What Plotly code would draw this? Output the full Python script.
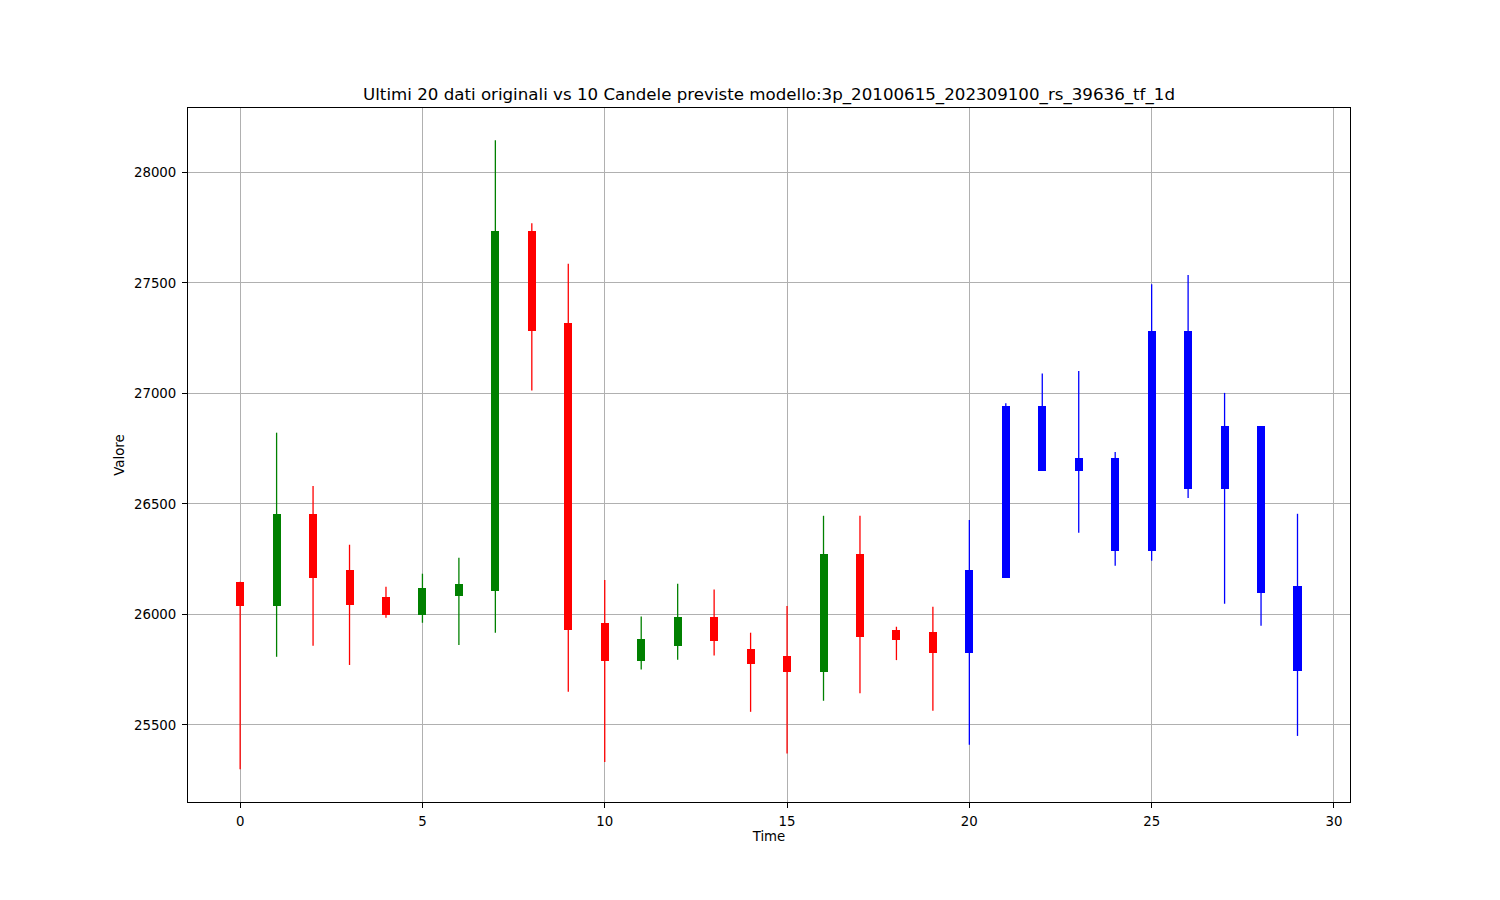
import plotly.graph_objects as go

# Data
times = list(range(30))
opens = [26147, 26038, 26454, 26200, 26078, 25998, 26083, 26104, 27734, 27318,
         25960, 25788, 25855, 25990, 25843, 25811, 25740, 26273, 25929, 25920,
         25826, 26164, 26649, 26649, 26288, 26288, 26568, 26568, 26095, 25745]
closes = [26038, 26454, 26166, 26043, 25998, 26119, 26138, 27734, 27284, 25928,
          25788, 25890, 25990, 25878, 25776, 25740, 26273, 25896, 25885, 25826,
          26200, 26943, 26943, 26706, 26706, 27282, 27282, 26852, 26852, 26130]
highs = [26147, 26822, 26581, 26315, 26125, 26184, 26256, 28145, 27770, 27586,
         26155, 25990, 26138, 26112, 25917, 26038, 26446, 26446, 25944, 26034,
         26427, 26955, 27090, 27101, 26735, 27494, 27535, 27002, 26852, 26455]
lows = [25299, 25808, 25858, 25771, 25985, 25962, 25861, 25917, 27013, 25650,
        25332, 25750, 25795, 25814, 25559, 25371, 25609, 25643, 25793, 25564,
        25410, 26164, 26649, 26369, 26220, 26243, 26526, 26048, 25949, 25450]
n_original = 20

x_ticks = [0, 5, 10, 15, 20, 25, 30]
y_ticks = [25500, 26000, 26500, 27000, 27500, 28000]

title = "Ultimi 20 dati originali vs 10 Candele previste modello:3p_20100615_202309100_rs_39636_tf_1d"


def color_for(i):
    if i >= n_original:
        return "#0000ff"
    return "#008000" if closes[i] >= opens[i] else "#ff0000"


fig = go.Figure()

# wicks
for i in times:
    c = color_for(i)
    fig.add_trace(go.Scatter(
        x=[times[i], times[i]], y=[lows[i], highs[i]], mode="lines",
        line=dict(color=c, width=1.3), showlegend=False, hoverinfo="skip"))

# bodies
body_base = [min(o, c) for o, c in zip(opens, closes)]
body_h = [abs(c - o) for o, c in zip(opens, closes)]
fig.add_trace(go.Bar(
    x=times, y=body_h, base=body_base, width=0.22,
    marker=dict(color=[color_for(i) for i in times], line=dict(width=0)),
    showlegend=False))

font_family = "DejaVu Sans"
W, H = 1484, 884
fig.update_layout(
    width=W, height=H,
    paper_bgcolor="white", plot_bgcolor="white",
    margin=dict(l=180, r=142, t=100, b=90),
    font=dict(family=font_family, size=13.33, color="black"),
    title=dict(text=title, x=0.5, xref="paper", xanchor="center",
               y=1 - 86 / H, yref="container", yanchor="middle",
               font=dict(family=font_family, size=16.67, color="black")),
    bargap=0,
    showlegend=False,
)
fig.update_xaxes(
    range=[-1.43, 30.44], tickvals=x_ticks, ticktext=[str(v) for v in x_ticks],
    showgrid=True, gridcolor="#b0b0b0", gridwidth=1,
    showline=True, linecolor="black", linewidth=1, mirror=True,
    ticks="outside", ticklen=5, tickcolor="black", zeroline=False,
    title=dict(text="Time", standoff=3, font=dict(size=13.33)),
    tickfont=dict(size=13.33), ticklabelstandoff=2,
)
fig.update_yaxes(
    range=[25151, 28291], tickvals=y_ticks, ticktext=[str(v) for v in y_ticks],
    showgrid=True, gridcolor="#b0b0b0", gridwidth=1,
    showline=True, linecolor="black", linewidth=1, mirror=True,
    ticks="outside", ticklen=5, tickcolor="black", zeroline=False,
    title=dict(text="Valore", standoff=6, font=dict(size=13.33)),
    tickfont=dict(size=13.33), ticklabelstandoff=3,
)

fig.write_html("out.html")
